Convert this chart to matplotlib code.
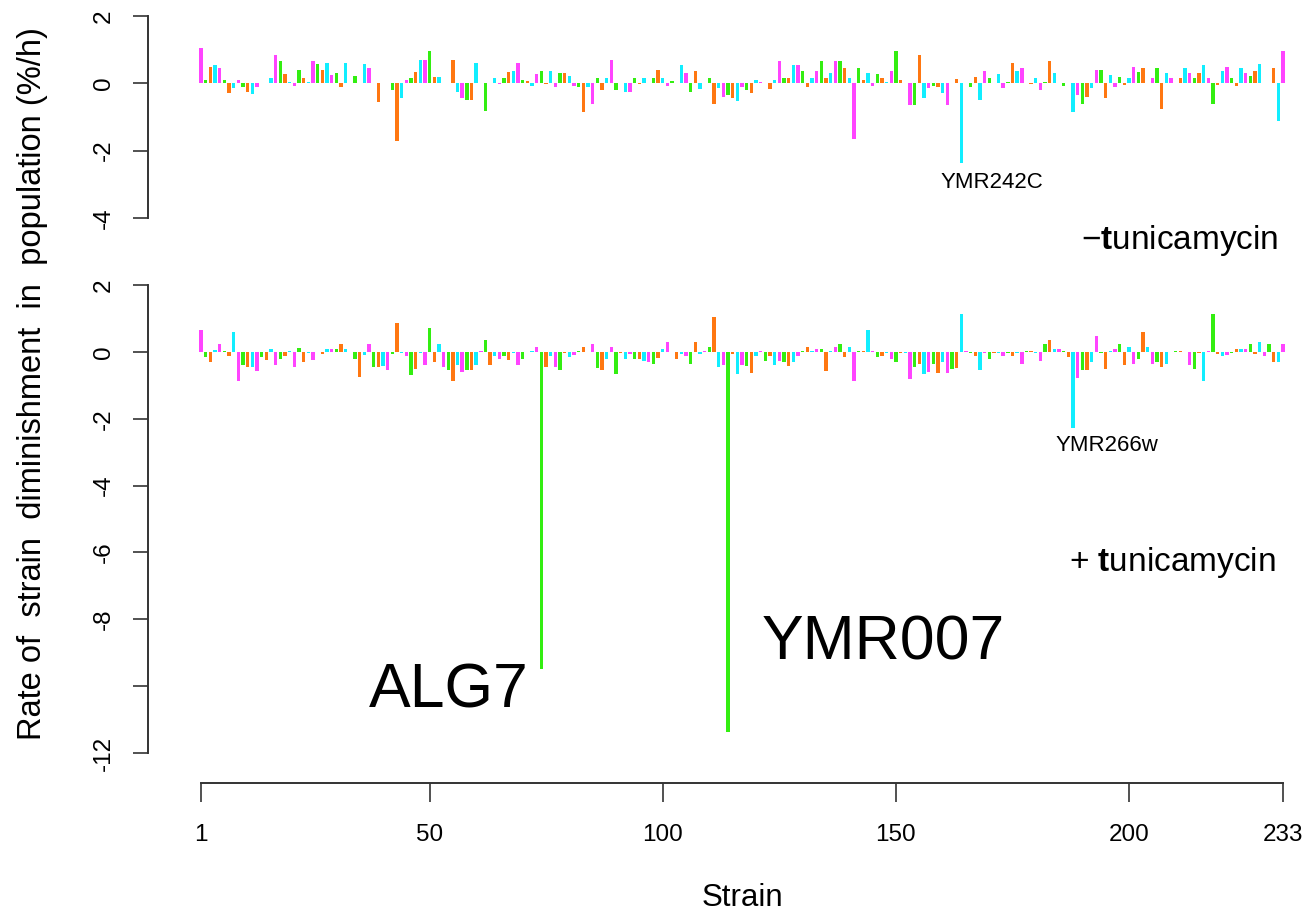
import matplotlib
matplotlib.use("Agg")
import matplotlib.pyplot as plt
import numpy as np

plt.rcParams['font.family'] = ['Liberation Sans', 'DejaVu Sans']
plt.rcParams['axes.unicode_minus'] = False
plt.rcParams['mathtext.fontset'] = 'custom'
plt.rcParams['mathtext.rm'] = 'Liberation Sans'
plt.rcParams['mathtext.bf'] = 'Liberation Sans:bold'

# ---- data ----
strains = list(range(1, 234))
palette = ['#FF44FF', '#33EE11', '#FF7711', '#11EEFF']  # magenta, green, orange, cyan (cycled)

minus_tunicamycin = [
    1.05, 0.1, 0.5, 0.55, 0.47, 0.1, -0.3, -0.15, 0.1, -0.1,
    -0.25, -0.33, -0.1, 0.02, 0.02, 0.15, 0.83, 0.67, 0.27, 0.05,
    -0.07, 0.39, 0.15, 0.05, 0.67, 0.58, 0.4, 0.6, 0.25, 0.3,
    -0.1, 0.6, 0.02, 0.23, 0.02, 0.57, 0.45, 0.0, -0.55, 0.0,
    0.0, -0.2, -1.72, -0.45, 0.1, 0.17, 0.33, 0.69, 0.69, 0.97,
    0.2, 0.2, 0.02, 0.02, 0.69, -0.25, -0.45, -0.5, -0.5, 0.6,
    0.02, -0.83, 0.0, 0.15, -0.03, 0.15, 0.33, 0.37, 0.6, 0.1,
    0.07, -0.07, 0.27, 0.37, -0.03, 0.37, -0.1, 0.3, 0.3, 0.23,
    -0.07, -0.1, -0.84, -0.1, -0.6, 0.15, -0.2, 0.15, 0.7, -0.2,
    0.0, -0.27, -0.27, 0.15, -0.03, 0.15, 0.02, 0.17, 0.4, 0.15,
    -0.07, 0.07, 0.0, 0.55, 0.3, -0.27, 0.37, -0.17, 0.0, 0.15,
    -0.6, -0.13, -0.4, -0.35, -0.45, -0.53, -0.1, -0.2, -0.3, 0.1,
    0.03, 0.0, -0.17, 0.1, 0.67, 0.17, 0.17, 0.53, 0.53, 0.37,
    -0.1, 0.17, 0.37, 0.65, 0.17, 0.3, 0.67, 0.65, 0.45, 0.15,
    -1.64, 0.47, 0.1, 0.3, -0.07, 0.27, 0.17, 0.05, 0.37, 0.97,
    0.1, 0.0, -0.63, -0.63, 0.83, -0.45, -0.13, -0.07, -0.1, -0.3,
    -0.63, 0.0, 0.12, -2.36, 0.0, -0.1, 0.18, -0.5, 0.37, 0.15,
    0.0, 0.27, -0.13, 0.03, 0.6, 0.37, 0.47, 0.0, -0.03, 0.15,
    -0.2, 0.05, 0.67, 0.3, 0.0, -0.07, 0.0, -0.84, -0.35, -0.6,
    -0.4, -0.15, 0.4, 0.4, -0.45, 0.25, -0.1, 0.2, -0.05, 0.15,
    0.5, 0.35, 0.45, 0.0, 0.15, 0.45, -0.75, 0.3, 0.15, 0.0,
    0.15, 0.45, 0.3, 0.17, 0.3, 0.55, 0.15, -0.6, -0.05, 0.37,
    0.5, 0.17, -0.07, 0.45, 0.3, 0.23, 0.37, 0.57, 0.02, 0.02,
    0.45, -1.12, 0.95,
]

plus_tunicamycin = [
    0.64, -0.16, -0.3, 0.05, 0.24, 0.02, -0.13, 0.6, -0.88, -0.4,
    -0.45, -0.45, -0.58, -0.16, -0.23, 0.09, -0.39, -0.2, -0.13, 0.04,
    -0.45, 0.11, -0.3, -0.02, -0.23, 0.0, -0.06, 0.09, 0.09, 0.1,
    0.24, 0.09, 0.0, -0.2, -0.76, -0.1, 0.24, -0.45, -0.45, -0.42,
    -0.53, -0.06, 0.87, -0.03, -0.13, -0.7, -0.5, -0.03, -0.39, 0.71,
    -0.3, 0.24, -0.45, -0.53, -0.86, -0.4, -0.6, -0.55, -0.55, -0.38,
    0.03, 0.34, -0.38, -0.12, -0.2, -0.12, -0.23, -0.03, -0.38, -0.2,
    0.0, 0.02, 0.14, -9.48, -0.46, -0.13, -0.46, -0.53, -0.03, -0.16,
    -0.09, 0.04, 0.14, 0.0, 0.24, -0.49, -0.53, -0.2, 0.14, -0.66,
    -0.03, -0.2, -0.05, -0.2, -0.2, -0.28, -0.3, -0.35, -0.19, 0.09,
    0.3, 0.0, -0.2, -0.05, -0.13, -0.35, 0.3, -0.05, 0.03, 0.14,
    1.04, -0.46, -0.39, -11.36, -0.05, -0.66, -0.39, -0.43, -0.63, -0.13,
    0.03, -0.26, -0.13, -0.39, -0.26, -0.3, -0.43, -0.3, -0.13, 0.02,
    0.14, 0.02, 0.09, 0.09, -0.56, 0.02, 0.14, 0.24, -0.16, 0.14,
    -0.86, 0.02, 0.02, 0.66, 0.02, -0.16, -0.13, -0.02, -0.2, -0.3,
    -0.02, -0.02, -0.8, -0.46, -0.36, -0.66, -0.59, -0.36, -0.63, -0.3,
    -0.63, -0.5, -0.49, 1.14, 0.02, -0.02, -0.11, -0.53, -0.02, -0.2,
    -0.03, -0.03, -0.13, -0.03, -0.13, -0.03, -0.35, 0.02, 0.02, -0.03,
    -0.26, 0.24, 0.34, 0.09, 0.09, 0.02, -0.16, -2.27, -0.79, -0.53,
    -0.53, -0.3, 0.47, -0.03, -0.5, 0.02, 0.09, 0.24, -0.39, 0.14,
    -0.36, -0.2, 0.6, 0.14, -0.36, -0.3, -0.46, -0.36, 0.0, 0.02,
    0.02, 0.0, -0.39, -0.5, -0.03, -0.86, 0.02, 1.14, -0.05, -0.13,
    -0.1, -0.02, 0.09, 0.09, 0.09, 0.24, -0.05, 0.3, -0.13, 0.24,
    -0.3, -0.3, 0.24,
]

xticks = [1, 50, 100, 150, 200, 233]
top_yticks = [2, 0, -2, -4]
top_yticklabels = ['2', '0', '-2', '-4']
bot_yticks = [2, 0, -2, -4, -6, -8, -10, -12]
bot_yticklabels = ['2', '0', '-2', '-4', '-6', '-8', '', '-12']

assert len(minus_tunicamycin) == 233 and len(plus_tunicamycin) == 233

# ---- figure ----
W, H = 1310, 917
fig = plt.figure(figsize=(W / 100, H / 100), dpi=100)

def frac_rect(left, top, right, bottom):
    return [left / W, 1 - bottom / H, (right - left) / W, (bottom - top) / H]

ax1 = fig.add_axes(frac_rect(201, 16, 1283, 218))
ax2 = fig.add_axes(frac_rect(201, 285, 1283, 753))

colors = [palette[(s - 1) % 4] for s in strains]
spine_col = '#333333'
tick_fs = 17.5

for ax, vals, yt, ytl, lo in ((ax1, minus_tunicamycin, top_yticks, top_yticklabels, -4),
                              (ax2, plus_tunicamycin, bot_yticks, bot_yticklabels, -12)):
    ax.bar(strains, vals, width=0.72, color=colors, linewidth=0, clip_on=False)
    ax.set_xlim(1, 233)
    ax.set_ylim(lo, 2)
    for s in ('top', 'right'):
        ax.spines[s].set_visible(False)
    ax.spines['left'].set_bounds(lo, 2)
    ax.spines['left'].set_position(('outward', 53 * 0.72))
    ax.spines['left'].set_linewidth(1.4)
    ax.spines['left'].set_color(spine_col)
    ax.set_yticks(yt)
    ax.set_yticklabels(ytl)
    ax.tick_params(axis='y', direction='out', length=10.8, width=1.2, color=spine_col,
                   labelsize=tick_fs, pad=13, labelrotation=90)
    for lab in ax.get_yticklabels():
        lab.set_va('center')
    ax.patch.set_visible(False)

ax1.spines['bottom'].set_visible(False)
ax1.set_xticks([])

ax2.spines['bottom'].set_bounds(1, 233)
ax2.spines['bottom'].set_position(('outward', 30 * 0.72))
ax2.spines['bottom'].set_linewidth(1.4)
ax2.spines['bottom'].set_color(spine_col)
ax2.set_xticks(xticks)
ax2.set_xticklabels([str(t) for t in xticks])
ax2.tick_params(axis='x', direction='out', length=13.7, width=1.2, color=spine_col,
                labelsize=tick_fs, pad=16)

# ---- texts ----
def fx(px):
    return px / W

def fy(py):
    return 1 - py / H

fig.text(fx(33), fy(384), 'Rate of  strain  diminishment  in  population (%/h)',
         rotation=90, ha='center', va='center', fontsize=23.5)
fig.text(fx(742), fy(898), 'Strain', ha='center', va='center', fontsize=22.5)

fig.text(fx(992), fy(183), 'YMR242C', ha='center', va='center', fontsize=16)
fig.text(fx(1107), fy(446), 'YMR266w', ha='center', va='center', fontsize=16)
fig.text(fx(1278), fy(240), r'$-\mathbf{t}$unicamycin', ha='right', va='center', fontsize=24)
fig.text(fx(1276), fy(563), r'+ $\mathbf{t}$unicamycin', ha='right', va='center', fontsize=24)
fig.text(fx(449), fy(691), 'ALG7', ha='center', va='center', fontsize=45)
fig.text(fx(883), fy(643), 'YMR007', ha='center', va='center', fontsize=45)

fig.savefig('out.png', dpi=100)
